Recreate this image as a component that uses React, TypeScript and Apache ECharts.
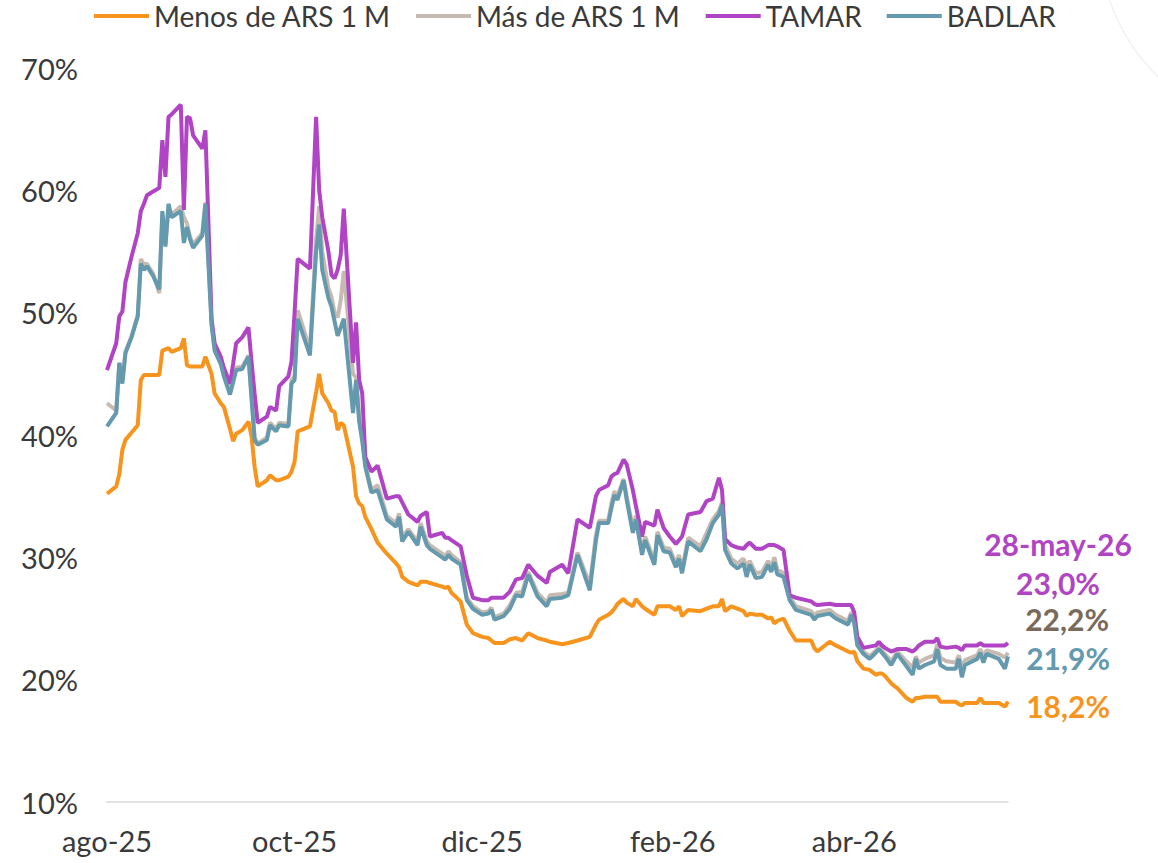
import React, { useEffect, useRef } from "react";
import * as echarts from "echarts";

const seriesNames = ["Menos de ARS 1 M", "Más de ARS 1 M", "TAMAR", "BADLAR"];
const seriesColors = ["#F7941D", "#C7BBB1", "#B044C4", "#6499AE"];
const labelColors = ["#F7941D", "#7A6A5C", "#B044C4", "#6499AE"];

const dates = [
  "2025-08-08","2025-08-11","2025-08-12","2025-08-13","2025-08-14","2025-08-16","2025-08-18","2025-08-19","2025-08-20","2025-08-21",
  "2025-08-23","2025-08-25","2025-08-26","2025-08-27","2025-08-28","2025-08-29","2025-09-01","2025-09-02","2025-09-03","2025-09-04",
  "2025-09-05","2025-09-08","2025-09-09","2025-09-11","2025-09-12","2025-09-14","2025-09-15","2025-09-17","2025-09-18","2025-09-19",
  "2025-09-21","2025-09-23","2025-09-24","2025-09-25","2025-09-26","2025-09-29","2025-09-30","2025-10-02","2025-10-03","2025-10-06",
  "2025-10-07","2025-10-08","2025-10-09","2025-10-13","2025-10-15","2025-10-16","2025-10-17","2025-10-19","2025-10-20","2025-10-21",
  "2025-10-22","2025-10-23","2025-10-24","2025-10-27","2025-10-28","2025-10-29","2025-10-30","2025-10-31","2025-11-02","2025-11-04",
  "2025-11-07","2025-11-10","2025-11-11","2025-11-12","2025-11-14","2025-11-17","2025-11-18","2025-11-20","2025-11-21","2025-11-25",
  "2025-11-26","2025-11-27","2025-11-28","2025-12-01","2025-12-03","2025-12-05","2025-12-08","2025-12-10","2025-12-11","2025-12-12",
  "2025-12-15","2025-12-17","2025-12-19","2025-12-21","2025-12-23","2025-12-26","2025-12-29","2025-12-30","2026-01-03","2026-01-05",
  "2026-01-08","2026-01-12","2026-01-14","2026-01-15","2026-01-18","2026-01-19","2026-01-20","2026-01-21","2026-01-23","2026-01-24",
  "2026-01-26","2026-01-27","2026-01-29","2026-01-30","2026-02-02","2026-02-03","2026-02-05","2026-02-07","2026-02-09","2026-02-10",
  "2026-02-11","2026-02-13","2026-02-17","2026-02-19","2026-02-21","2026-02-23","2026-02-24","2026-02-25","2026-02-27","2026-03-01",
  "2026-03-03","2026-03-04","2026-03-05","2026-03-07","2026-03-09","2026-03-11","2026-03-12","2026-03-13","2026-03-14","2026-03-16",
  "2026-03-18","2026-03-20","2026-03-25","2026-03-26","2026-03-27","2026-03-31","2026-04-02","2026-04-06","2026-04-07","2026-04-08",
  "2026-04-09","2026-04-11","2026-04-13","2026-04-15","2026-04-16","2026-04-17","2026-04-18","2026-04-20","2026-04-22","2026-04-25",
  "2026-04-27","2026-04-28","2026-04-29","2026-05-01","2026-05-04","2026-05-05","2026-05-06","2026-05-08","2026-05-11","2026-05-12",
  "2026-05-13","2026-05-14","2026-05-18","2026-05-19","2026-05-20","2026-05-21","2026-05-25","2026-05-27","2026-05-28"
];

const tamar = [
  45.3,47.5,49.7,50.1,52.5,54.6,56.5,58.3,58.9,59.6,
  59.9,60.2,64.1,61.1,66.0,66.2,67.0,58.4,66.0,65.9,
  64.5,63.4,64.9,49.5,47.5,46.4,45.5,44.2,45.8,47.5,
  48.0,48.8,46.0,43.4,41.0,41.5,42.3,42.0,44.0,44.8,
  46.0,50.0,54.4,53.6,66.0,60.0,57.8,55.0,53.1,52.8,
  53.5,54.7,58.5,45.9,49.2,44.5,43.4,38.2,37.0,37.5,
  34.8,35.0,35.0,34.5,33.5,32.9,33.4,33.7,31.7,32.0,
  31.6,31.6,31.4,30.9,28.5,26.7,26.5,26.5,26.7,26.7,
  26.7,27.2,28.2,28.3,29.4,28.5,27.9,28.8,29.4,28.7,
  33.1,32.4,35.0,35.5,35.9,36.6,36.8,36.9,38.0,37.6,
  35.5,34.2,31.7,32.9,32.6,33.9,32.4,31.7,31.1,31.4,
  31.7,33.5,33.7,34.6,34.8,36.5,35.5,31.5,31.0,30.8,
  30.7,31.0,31.2,30.7,30.7,31.0,31.0,31.0,30.9,30.6,
  26.9,26.7,26.4,26.2,26.1,26.2,26.1,26.1,26.1,25.5,
  23.5,22.6,22.7,22.8,23.1,22.8,22.6,22.3,22.5,22.5,
  22.3,22.5,22.8,23.1,23.1,23.4,22.7,22.6,22.7,22.6,
  22.4,22.8,22.8,23.0,22.8,22.8,22.8,22.8,23.0
];

const mas = [
  42.6,42.0,45.9,44.4,46.8,48.1,49.8,54.4,53.9,54.0,
  53.2,51.6,58.0,55.6,58.5,58.0,58.7,57.8,57.3,56.2,
  55.6,56.5,59.0,49.2,47.0,46.0,45.0,43.6,44.5,45.5,
  45.6,46.5,43.2,39.8,39.3,39.8,41.0,40.5,41.0,40.9,
  44.5,44.8,50.2,47.0,56.0,58.7,55.0,52.0,51.3,50.0,
  49.6,51.0,53.4,45.0,44.7,41.5,39.8,37.6,35.5,35.9,
  33.4,32.8,33.6,31.7,32.3,31.3,32.8,31.3,31.0,30.3,
  30.1,30.5,30.2,29.6,26.7,26.0,25.5,25.6,25.9,25.1,
  25.4,26.1,27.1,27.2,28.8,27.1,26.3,26.9,27.0,27.1,
  30.4,27.8,31.8,33.0,33.0,34.4,35.4,35.0,36.4,35.0,
  32.4,33.4,30.5,31.7,29.7,32.1,30.8,30.7,29.5,30.2,
  29.0,31.6,30.9,32.0,33.1,33.8,34.5,31.0,29.9,29.5,
  29.9,29.2,29.7,28.7,28.8,29.7,29.2,30.0,29.0,28.7,
  26.8,26.0,25.6,25.2,25.5,25.7,25.3,24.8,25.5,24.9,
  23.0,22.3,21.9,22.4,22.7,22.4,22.1,21.5,22.3,21.5,
  21.0,21.9,21.4,21.7,22.0,22.9,21.8,21.5,21.4,22.0,
  21.0,21.6,22.0,22.5,21.9,22.4,22.1,21.8,22.2
];

const badlar = [
  40.7,41.8,45.9,44.2,46.7,48.0,49.7,54.0,53.5,53.8,
  53.0,51.9,58.3,55.4,58.9,57.8,58.3,55.7,57.0,56.0,
  55.3,56.3,58.9,49.0,46.9,45.8,44.8,43.3,44.3,45.3,
  45.4,46.4,43.0,39.6,39.2,39.6,40.8,40.3,40.8,40.7,
  44.2,44.5,49.5,46.5,55.0,57.2,53.5,51.2,50.5,49.3,
  48.1,48.8,49.5,41.8,44.5,41.1,39.5,37.4,35.3,35.5,
  33.1,32.5,33.3,31.3,32.1,31.0,32.5,31.0,30.7,30.0,
  29.8,30.2,29.9,29.4,26.5,25.8,25.3,25.4,25.7,24.9,
  25.2,25.8,26.9,26.8,28.6,26.8,26.0,26.6,26.7,26.9,
  30.2,27.3,31.4,32.8,32.8,34.0,35.1,34.7,36.3,34.7,
  32.0,33.1,30.2,31.4,29.4,31.8,30.5,30.4,29.2,29.9,
  28.7,31.3,30.5,31.5,32.8,33.5,34.3,30.6,29.5,29.1,
  29.5,28.4,29.4,28.3,28.4,29.4,28.8,29.6,28.6,28.4,
  26.5,25.7,25.3,24.9,25.2,25.4,25.0,24.5,25.3,24.6,
  22.8,22.1,21.7,22.2,22.5,22.2,21.9,21.2,22.1,21.1,
  20.4,21.7,20.9,21.2,21.5,22.5,21.2,20.9,20.9,21.7,
  20.2,21.2,21.7,22.2,21.4,22.1,21.7,20.9,21.9
];

const menos = [
  35.2,35.8,36.8,38.8,39.6,40.2,40.8,44.5,44.9,44.9,
  44.9,44.9,46.9,47.0,47.1,46.8,47.1,47.9,45.7,45.6,
  45.6,45.6,46.4,45.0,43.4,42.6,42.3,40.5,39.5,40.1,
  40.4,41.1,39.9,37.4,35.8,36.3,36.7,36.3,36.3,36.6,
  37.0,37.8,40.3,40.7,43.5,45.0,43.4,42.6,42.0,41.9,
  40.4,41.0,40.8,37.4,35.0,34.4,34.2,33.3,32.3,31.2,
  30.3,29.5,29.2,28.4,28.0,27.7,28.0,28.0,27.9,27.6,
  27.5,27.6,27.1,26.4,24.5,23.8,23.5,23.4,23.2,23.0,
  23.0,23.3,23.4,23.2,23.8,23.4,23.2,23.1,22.9,23.0,
  23.2,23.5,24.5,24.9,25.3,25.5,25.8,26.2,26.6,26.3,
  26.0,26.6,26.0,25.8,25.3,26.0,26.0,26.0,25.7,26.0,
  25.2,25.7,25.6,25.8,26.0,26.0,26.6,25.6,26.0,25.8,
  25.6,25.2,25.4,25.3,25.3,25.0,25.1,24.6,24.8,25.0,
  24.0,23.2,23.2,22.6,22.3,23.1,22.8,22.3,22.2,22.3,
  21.5,20.9,20.8,20.4,20.5,20.5,20.3,19.7,19.3,18.5,
  18.2,18.5,18.5,18.6,18.6,18.6,18.2,18.2,18.2,18.0,
  17.9,18.1,18.1,18.5,18.1,18.1,18.1,17.8,18.2
];

const tickDates = ["2025-08-08", "2025-10-08", "2025-12-08", "2026-02-08", "2026-04-08"];
const monthAbbr = ["ene", "feb", "mar", "abr", "may", "jun", "jul", "ago", "sep", "oct", "nov", "dic"];

function buildCalendar(start: string, end: string): string[] {
  const out: string[] = [];
  const d = new Date(start + "T00:00:00Z");
  const e = new Date(end + "T00:00:00Z");
  while (d.getTime() <= e.getTime()) {
    out.push(d.toISOString().slice(0, 10));
    d.setUTCDate(d.getUTCDate() + 1);
  }
  return out;
}

function monthLabel(v: string): string {
  const [y, m] = v.split("-");
  return monthAbbr[parseInt(m, 10) - 1] + "-" + y.slice(2);
}

function dayLabel(v: string): string {
  const [y, m, d] = v.split("-");
  return parseInt(d, 10) + "-" + monthAbbr[parseInt(m, 10) - 1] + "-" + y.slice(2);
}

const pct = (v: number) => v.toFixed(1).replace(".", ",") + "%";

const FONT = "Lato";

export default function App() {
  const ref = useRef<HTMLDivElement>(null);
  useEffect(() => {
    document.body.style.margin = "0";
    if (!ref.current) return;
    const chart = echarts.init(ref.current, null, { renderer: "svg" });
    const calendar = buildCalendar(dates[0], dates[dates.length - 1]);
    const all = [menos, mas, tamar, badlar];
    const last = dates.length - 1;
    const endLabels = [
      { text: dayLabel(dates[last]), color: labelColors[2], x: 1058, y: 544, align: "center" },
      { text: pct(tamar[last]), color: labelColors[2], x: 1058, y: 583, align: "center" },
      { text: pct(mas[last]), color: labelColors[1], x: 1109, y: 619, align: "right" },
      { text: pct(badlar[last]), color: labelColors[3], x: 1110, y: 658, align: "right" },
      { text: pct(menos[last]), color: labelColors[0], x: 1110, y: 706, align: "right" },
    ];
    chart.setOption({
      animation: false,
      backgroundColor: "#ffffff",
      grid: { left: 107, right: 150, top: 68, bottom: 61 },
      legend: {
        top: -3,
        left: 89,
        icon: "rect",
        itemWidth: 55,
        itemHeight: 4,
        itemGap: 25,
        textStyle: { fontSize: 28, color: "#3A3A3A", fontFamily: FONT },
        data: seriesNames,
      },
      xAxis: {
        type: "category",
        data: calendar,
        boundaryGap: false,
        axisLine: { show: true, lineStyle: { color: "#D9D9D9", width: 1.5 } },
        axisTick: { show: false },
        splitLine: { show: false },
        axisLabel: {
          interval: (_i: number, v: string) => tickDates.includes(v),
          formatter: (v: string) => monthLabel(v),
          fontSize: 29,
          color: "#3A3A3A",
          fontFamily: FONT,
          margin: 24,
        },
      },
      yAxis: {
        type: "value",
        min: 10,
        max: 70,
        interval: 10,
        axisLine: { show: false },
        axisTick: { show: false },
        splitLine: { show: false },
        axisLabel: {
          formatter: "{value}%",
          fontSize: 29,
          color: "#3A3A3A",
          fontFamily: FONT,
          margin: 29,
        },
      },
      series: seriesNames.map((name, k) => ({
        name,
        type: "line",
        data: dates.map((d, i) => [d, all[k][i]]),
        showSymbol: false,
        symbol: "none",
        lineStyle: { color: seriesColors[k], width: 4 },
        itemStyle: { color: seriesColors[k] },
        z: 2 + k,
      })),
      graphic: [
        {
          type: "circle",
          shape: { cx: 1290, cy: -60, r: 190 },
          style: { fill: "none", stroke: "#F2F2F2", lineWidth: 1.5 },
          silent: true,
        },
        ...endLabels.map((l) => ({
          type: "text",
          x: l.x,
          y: l.y,
          style: {
            text: l.text,
            fill: l.color,
            font: `bold 30px ${FONT}`,
            textAlign: l.align,
            textVerticalAlign: "middle",
          },
        })),
      ],
    });
    return () => chart.dispose();
  }, []);
  return (
    <div
      ref={ref}
      style={{ position: "absolute", left: 0, top: 0, width: 1158, height: 863 }}
    />
  );
}
